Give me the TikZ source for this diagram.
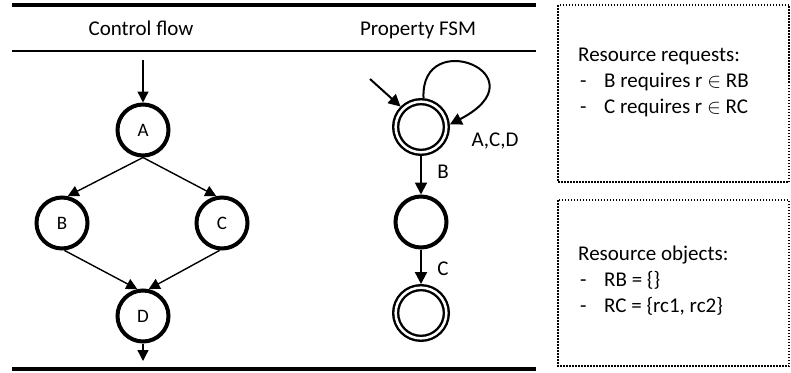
\documentclass[tikz,border=0pt]{standalone}
\usepackage{fontspec}
\setmainfont{Carlito}
\usetikzlibrary{arrows.meta}
\begin{document}
\begin{tikzpicture}[x=1pt, y=-1pt,
    every node/.style={font=\fontsize{21}{25}\selectfont, inner sep=0pt},
    cfnode/.style={draw, circle, line width=4pt, minimum size=51pt, font=\fontsize{19}{23}\selectfont},
    accnode/.style={draw, circle, line width=2.4pt, double, double distance=2.5pt, minimum size=50.7pt, outer sep=3.6pt},
    cfedge/.style={line width=1.4pt, -{Triangle[length=11pt,width=11pt]}},
    fsmedge/.style={line width=2pt, -{Triangle[length=12pt,width=12pt]}},
    resbox/.style={line width=1.5pt, dash pattern=on 1.5pt off 1.5pt}]
    \useasboundingbox (0,0) rectangle (791,372);

% table rules and headers
    \draw[line width=4pt] (12,5) -- (536,5);
    \draw[line width=2pt] (12,51) -- (536,51);
    \draw[line width=4pt] (12,369) -- (536,369);
    \node[anchor=base] (hcf) at (141,35) {Control flow};
    \node[anchor=base] (hfsm) at (418,35) {Property FSM};

% control flow
    \node[cfnode] (NA) at (143,130) {A};
    \node[cfnode] (NB) at (62,223) {B};
    \node[cfnode] (NC) at (222,223) {C};
    \node[cfnode] (ND) at (143,316) {D};
    \coordinate (Ain) at (143,60);
    \coordinate (Dout) at (143,361);

    \draw[cfedge] (Ain) -- (NA);
    \draw[cfedge] (NA.south) -- (NB.78);
    \draw[cfedge] (NA.south) -- (NC.102);
    \draw[cfedge] (NB.-85) -- (ND.102);
    \draw[cfedge] (NC.-95) -- (ND.78);
    \draw[cfedge] (ND) -- (Dout);

% property FSM
    \node[accnode] (S0) at (421,127) {};
    \node[cfnode] (S1) at (421,222) {};
    \node[accnode] (S2) at (421,313) {};
    \coordinate (S0in) at (370,79);

    \draw[fsmedge] (S0in) -- (S0.135);
    \draw[fsmedge] (S0.85) .. controls (420,25) and (545,75) .. (S0.5);
    \draw[fsmedge] (S0) -- (S1);
    \draw[fsmedge] (S1) -- (S2);

    \node[anchor=base] (lacd) at (495,146.5) {A,C,D};
    \node[anchor=base] (lb) at (443,178) {B};
    \node[anchor=base] (lc) at (443,275) {C};

% resources
    \draw[resbox] (558,5) rectangle (789,182);
    \draw[resbox] (558,200) rectangle (789,366);

    \node[anchor=base west] (rq) at (578,61) {Resource requests:};
    \node[anchor=base west] (rqd1) at (580,87) {-};
    \node[anchor=base west] (rq1) at (604,87) {B requires r $\in$ RB};
    \node[anchor=base west] (rqd2) at (580,113) {-};
    \node[anchor=base west] (rq2) at (604,113) {C requires r $\in$ RC};

    \node[anchor=base west] (ro) at (578,260) {Resource objects:};
    \node[anchor=base west] (rod1) at (580,286) {-};
    \node[anchor=base west] (ro1) at (604,286) {RB = \{\}};
    \node[anchor=base west] (rod2) at (580,312) {-};
    \node[anchor=base west] (ro2) at (604,312) {RC = \{rc1, rc2\}};
\end{tikzpicture}
\end{document}
